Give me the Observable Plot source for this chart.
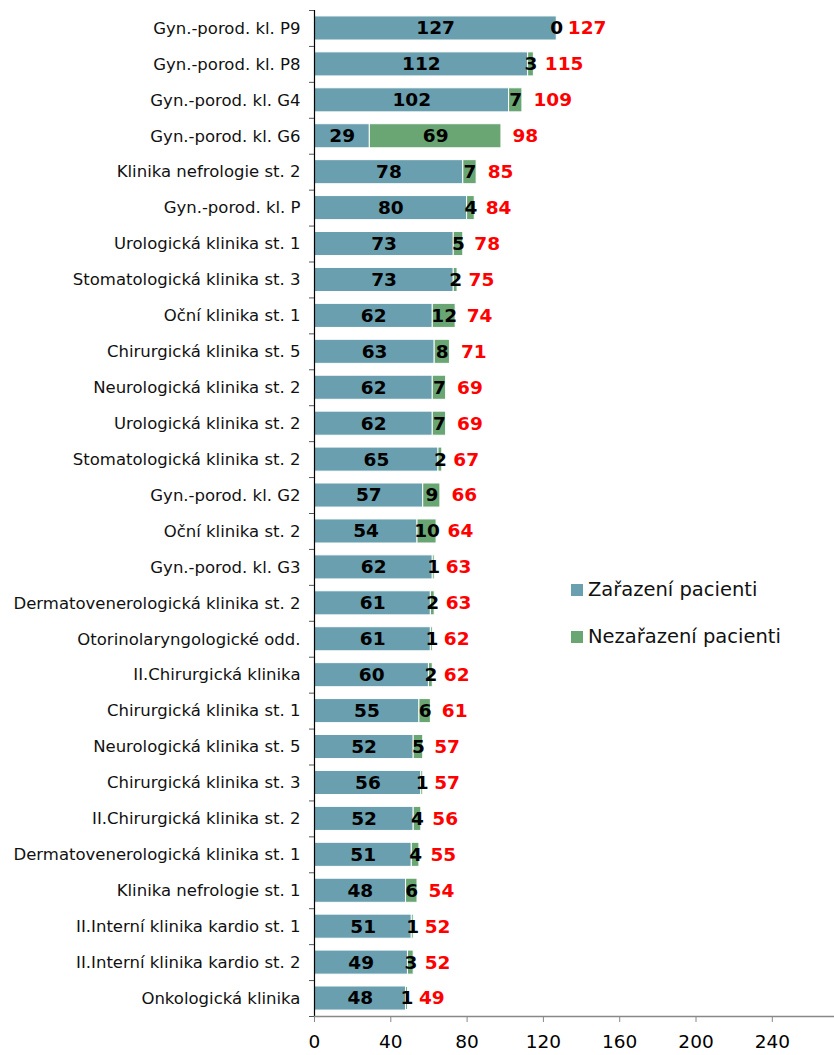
<!DOCTYPE html>
<html>
<head>
<meta charset="utf-8">
<script src="https://cdn.jsdelivr.net/npm/d3@7"></script>
<script src="https://cdn.jsdelivr.net/npm/@observablehq/plot@0.6"></script>
<style>
  body { margin: 0; background: #fff; }
  #wrap { position: relative; width: 834px; height: 1055px; font-family: "DejaVu Sans", Verdana, sans-serif; }
  .legend { position: absolute; left: 571px; font-size: 19.5px; color: #111; display: flex; align-items: center; }
  .legend span.sw { display: inline-block; width: 12px; height: 12px; margin-right: 5px; }
</style>
</head>
<body>
<div id="wrap">
  <div id="chart"></div>
  <div class="legend" style="top:578px"><span class="sw" style="background:#699fae"></span>Zařazení pacienti</div>
  <div class="legend" style="top:625px"><span class="sw" style="background:#69a674"></span>Nezařazení pacienti</div>
</div>
<script>
const categories = [
  "Gyn.-porod. kl. P9", "Gyn.-porod. kl. P8", "Gyn.-porod. kl. G4", "Gyn.-porod. kl. G6",
  "Klinika nefrologie st. 2", "Gyn.-porod. kl. P", "Urologická klinika st. 1",
  "Stomatologická klinika st. 3", "Oční klinika st. 1", "Chirurgická klinika st. 5",
  "Neurologická klinika st. 2", "Urologická klinika st. 2", "Stomatologická klinika st. 2",
  "Gyn.-porod. kl. G2", "Oční klinika st. 2", "Gyn.-porod. kl. G3",
  "Dermatovenerologická klinika st. 2", "Otorinolaryngologické odd.", "II.Chirurgická klinika",
  "Chirurgická klinika st. 1", "Neurologická klinika st. 5", "Chirurgická klinika st. 3",
  "II.Chirurgická klinika st. 2", "Dermatovenerologická klinika st. 1", "Klinika nefrologie st. 1",
  "II.Interní klinika kardio st. 1", "II.Interní klinika kardio st. 2", "Onkologická klinika"
];
const zarazeni =   [127, 112, 102, 29, 78, 80, 73, 73, 62, 63, 62, 62, 65, 57, 54, 62, 61, 61, 60, 55, 52, 56, 52, 51, 48, 51, 49, 48];
const nezarazeni = [0, 3, 7, 69, 7, 4, 5, 2, 12, 8, 7, 7, 2, 9, 10, 1, 2, 1, 2, 6, 5, 1, 4, 4, 6, 1, 3, 1];
const celkem =     [127, 115, 109, 98, 85, 84, 78, 75, 74, 71, 69, 69, 67, 66, 64, 63, 63, 62, 62, 61, 57, 57, 56, 55, 54, 52, 52, 49];
const xTicks = [0, 40, 80, 120, 160, 200, 240];
const seriesNames = ["Zařazení pacienti", "Nezařazení pacienti"];
const seriesColors = ["#699fae", "#69a674"];

const rows = categories.map((c, i) => ({cat: c, zar: zarazeni[i], nez: nezarazeni[i], tot: celkem[i]}));
const stacked = [];
rows.forEach(r => {
  stacked.push({cat: r.cat, series: seriesNames[0], value: r.zar});
  stacked.push({cat: r.cat, series: seriesNames[1], value: r.nez});
});

const W = 834, H = 1055, mT = 10, mB = 39, mL = 314, mR = 0;
const step = (H - mT - mB) / categories.length;
const font = "'DejaVu Sans', Verdana, sans-serif";
const xMax = 272.6;

const chart = Plot.plot({
  width: W, height: H,
  marginTop: mT, marginBottom: mB, marginLeft: mL, marginRight: mR,
  style: {fontFamily: font, background: "white", overflow: "visible"},
  x: {domain: [0, xMax], axis: null},
  y: {domain: categories, paddingInner: 0.33, paddingOuter: 0.165, round: false, axis: null},
  color: {domain: seriesNames, range: seriesColors},
  marks: [
    Plot.barX(stacked, Plot.stackX({y: "cat", x: "value", fill: "series", stroke: "white", strokeWidth: 1, order: null})),
    Plot.ruleX([0], {stroke: "#000", strokeWidth: 1.2}),
    Plot.ruleY(categories, {y: d => d, x1: 0, x2: 0, insetLeft: -5, dy: -step / 2, stroke: "#555"}),
    Plot.ruleY([categories[categories.length - 1]], {y: d => d, x1: 0, x2: xMax, dy: step / 2, stroke: "#888", strokeWidth: 1.5}),
    Plot.ruleY([categories[categories.length - 1]], {y: d => d, x1: 0, x2: 0, insetLeft: -5, dy: step / 2, stroke: "#555"}),
    Plot.axisX({ticks: xTicks, tickSize: 6, tickPadding: 12, fontSize: 18.5, anchor: "bottom", stroke: "#888", fill: "#000", tickFormat: d => String(d), label: null, fontFamily: font}),
    Plot.axisY({tickSize: 0, tickPadding: 14, fontSize: 16.5, label: null, fill: "#111", fontFamily: font}),
    Plot.text(rows, {y: "cat", x: d => d.zar / 2, text: d => String(d.zar), fontSize: 18.5, fontWeight: "bold", fill: "#000", fontFamily: font}),
    Plot.text(rows, {y: "cat", x: d => d.zar + d.nez / 2, text: d => String(d.nez), fontSize: 18.5, fontWeight: "bold", fill: "#000", fontFamily: font}),
    Plot.text(rows, {y: "cat", x: "tot", text: d => String(d.tot), dx: 11, textAnchor: "start", fontSize: 18.5, fontWeight: "bold", fill: "#ff0000", fontFamily: font})
  ]
});
document.getElementById("chart").appendChild(chart);
</script>
</body>
</html>
